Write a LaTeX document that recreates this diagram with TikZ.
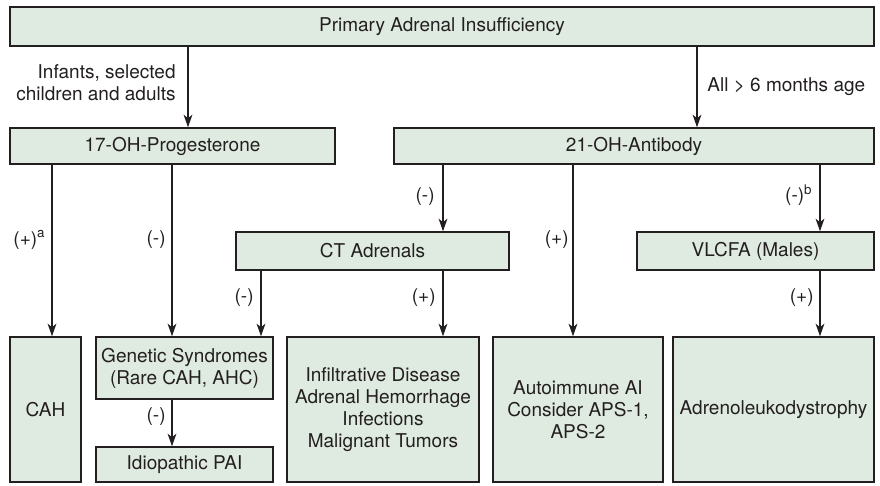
\documentclass[tikz,border=0pt]{standalone}
\usepackage{fontspec}
\setmainfont{TeX Gyre Heros}
\usetikzlibrary{arrows.meta}
\definecolor{boxfill}{HTML}{DFEBE0}
\definecolor{ink}{HTML}{231F20}

\begin{document}
\begin{tikzpicture}[x=0.5pt,y=-0.5pt,
  font=\fontsize{9.5}{11}\selectfont, color=ink,
  box/.style={draw=ink, fill=boxfill, line width=0.75pt, inner sep=0pt,
    align=center, minimum width=#1},
  arr/.style={-{Stealth[length=6.3pt,width=4.4pt,inset=1.8pt]}, line width=0.65pt},
  lbl/.style={anchor=east, inner sep=0pt}]
\useasboundingbox (0,0) rectangle (880,486);
% boxes
\node[box=432pt, minimum height=19.5pt] (pai) at (442,26.5) {Primary Adrenal Insufficiency};
\node[box=162.5pt, minimum height=18pt] (ohp) at (172.5,146) {17-OH-Progesterone};
\node[box=240pt, minimum height=18pt] (ab) at (634,146) {21-OH-Antibody};
\node[box=136.5pt, minimum height=19pt] (ct) at (372.5,251) {CT Adrenals};
\node[box=118.5pt, minimum height=19pt] (vlcfa) at (755.5,251) {VLCFA (Males)};
\node[box=35.5pt, minimum height=72.5pt] (cah) at (45.5,409.5) {CAH};
\node[box=88.5pt, minimum height=31pt] (gen) at (184.5,368) {Genetic Syndromes\\(Rare CAH, AHC)};
\node[box=88.5pt, minimum height=17.5pt] (idio) at (184.5,464.5) {Idiopathic PAI};
\node[box=96pt, minimum height=72.5pt] (infil) at (383,409.5) {Infiltrative Disease\\Adrenal Hemorrhage\\Infections\\Malignant Tumors};
\node[box=85pt, minimum height=72.5pt] (auto) at (578,409.5) {Autoimmune AI\\Consider APS-1,\\APS-2};
\node[box=100.5pt, minimum height=72.5pt] (ald) at (773.5,409.5) {Adrenoleukodystrophy};
% columns of the connectors
\coordinate (xa) at (188,0);
\coordinate (xb) at (697,0);
\coordinate (xc) at (52,0);
\coordinate (xd) at (172,0);
\coordinate (xe) at (443,0);
\coordinate (xf) at (573,0);
\coordinate (xg) at (820,0);
\coordinate (xh) at (261,0);
% connectors
\draw[arr] (pai.south -| xa) -- (ohp.north -| xa);
\draw[arr] (pai.south -| xb) -- (ab.north -| xb);
\draw[arr] (ohp.south -| xc) -- (cah.north -| xc);
\draw[arr] (ohp.south -| xd) -- (gen.north -| xd);
\draw[arr] (gen.south -| xd) -- (idio.north -| xd);
\draw[arr] (ab.south -| xe) -- (ct.north -| xe);
\draw[arr] (ct.south -| xh) -- (gen.north -| xh);
\draw[arr] (ct.south -| xe) -- (infil.north -| xe);
\draw[arr] (ab.south -| xf) -- (auto.north -| xf);
\draw[arr] (ab.south -| xg) -- (vlcfa.north -| xg);
\draw[arr] (vlcfa.south -| xg) -- (ald.north -| xg);
% labels
\node[lbl, align=right] (infants) at (176,82.5) {Infants, selected\\children and adults};
\node[anchor=west, inner sep=0pt] (older) at (707,87) {All > 6 months age};
\node[lbl] (lcah) at (46,240) {(+)\textsuperscript{a}};
\node[lbl] (lgen) at (166,240) {(-)};
\node[lbl] (lidio) at (166,417) {(-)};
\node[lbl] (lct) at (435,197) {(-)};
\node[lbl] (lctgen) at (254,298) {(-)};
\node[lbl] (linfil) at (436,298) {(+)};
\node[lbl] (lauto) at (569,240) {(+)};
\node[lbl] (lvlcfa) at (813,195) {(-)\textsuperscript{b}};
\node[lbl] (lald) at (814,298) {(+)};
\end{tikzpicture}
\end{document}
